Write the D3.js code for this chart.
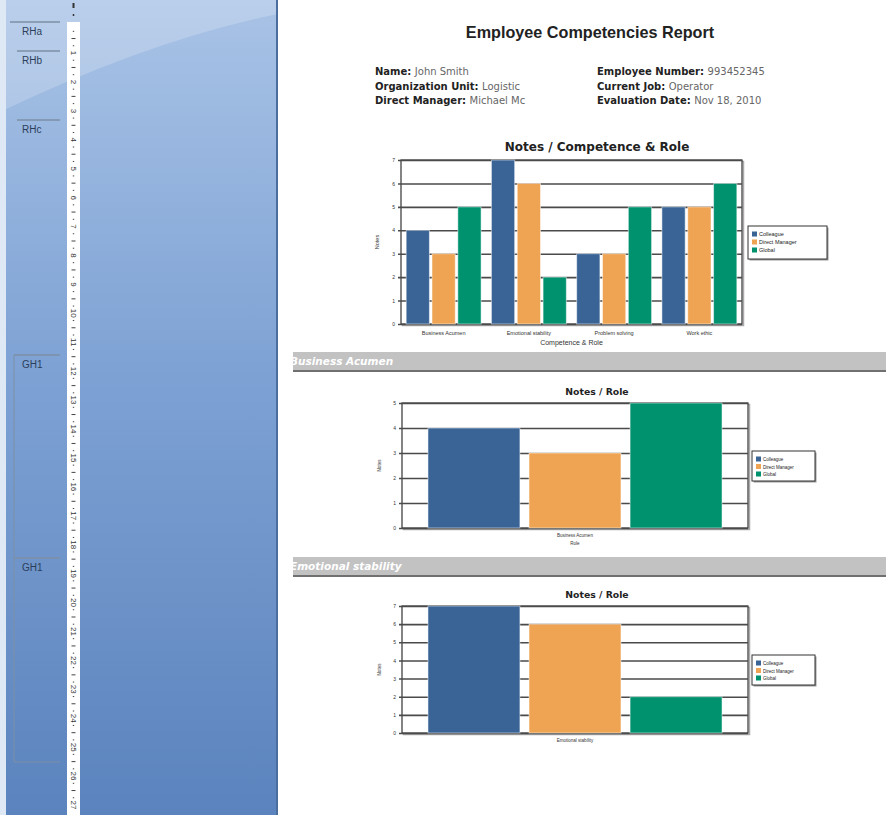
<!DOCTYPE html>
<html>
<head>
<meta charset="utf-8">
<script src="https://cdn.jsdelivr.net/npm/d3@7"></script>
<style>
body { margin: 0; background: #fff; }
svg { display: block; font-family: "Liberation Sans", Arial, sans-serif; }
</style>
</head>
<body>
<svg id="page" width="893" height="815"></svg>
<script>
// Report data
var competences = ["Business Acumen", "Emotional stability", "Problem solving", "Work ethic"];
var roles = ["Colleague", "Direct Manager", "Global"];
var colleagueNotes = [4, 7, 3, 5];
var managerNotes = [3, 6, 3, 5];
var globalNotes = [5, 2, 5, 6];
var roleColors = ["#3a6496", "#eea453", "#00916e"];
var infoLeft = [["Name:", "John Smith"], ["Organization Unit:", "Logistic"], ["Direct Manager:", "Michael Mc"]];
var infoRight = [["Employee Number:", "993452345"], ["Current Job:", "Operator"], ["Evaluation Date:", "Nov 18, 2010"]];
var sectionLabels = ["RHa", "RHb", "RHc", "GH1", "GH1"];
var rulerNumbers = d3.range(1, 28);

var wideFont = "DejaVu Sans, Verdana, sans-serif";
var svg = d3.select("#page");

// ---------- left designer panel ----------
var defs = svg.append("defs");
var grad = defs.append("linearGradient").attr("id", "panelGrad")
    .attr("x1", 0).attr("y1", 0).attr("x2", 0).attr("y2", 1);
grad.append("stop").attr("offset", "0%").attr("stop-color", "#a9c3e6");
grad.append("stop").attr("offset", "45%").attr("stop-color", "#7ea2d4");
grad.append("stop").attr("offset", "100%").attr("stop-color", "#5b83bd");
defs.append("clipPath").attr("id", "pageClip")
    .append("rect").attr("x", 293).attr("y", 0).attr("width", 600).attr("height", 815);

svg.append("rect").attr("x", 0).attr("y", 0).attr("width", 278).attr("height", 815)
    .attr("fill", "url(#panelGrad)");
// glossy highlight at the top
svg.append("path").attr("d", "M0,0 L278,0 L278,14 Q150,40 0,112 Z")
    .attr("fill", "#ffffff").attr("opacity", 0.2);
svg.append("rect").attr("x", 0).attr("y", 0).attr("width", 6).attr("height", 815)
    .attr("fill", "#dfe9f6");
svg.append("rect").attr("x", 276).attr("y", 0).attr("width", 2).attr("height", 815)
    .attr("fill", "#4b6e9f");

// section markers
var sectionY = [22, 51, 120, 355, 558];
var sectionX = [10, 17, 17, 14, 14];
var sec = svg.append("g");
sectionLabels.forEach(function(s, i) {
    sec.append("line").attr("x1", sectionX[i]).attr("x2", 60)
        .attr("y1", sectionY[i]).attr("y2", sectionY[i])
        .attr("stroke", "#7d8fa6").attr("stroke-width", 1.5);
    sec.append("text").attr("x", 22).attr("y", sectionY[i] + 13)
        .attr("font-size", 10).attr("fill", "#2c3e5a").text(s);
});
sec.append("line").attr("x1", 14).attr("x2", 14).attr("y1", 355).attr("y2", 762)
    .attr("stroke", "#7d8fa6").attr("stroke-width", 1);
sec.append("line").attr("x1", 14).attr("x2", 60).attr("y1", 762).attr("y2", 762)
    .attr("stroke", "#7d8fa6").attr("stroke-width", 1);

// vertical ruler
var ruler = svg.append("g");
ruler.append("rect").attr("x", 67).attr("y", 22).attr("width", 13).attr("height", 793)
    .attr("fill", "#ffffff");
ruler.append("line").attr("x1", 73.5).attr("x2", 73.5).attr("y1", 3).attr("y2", 8)
    .attr("stroke", "#333").attr("stroke-width", 2);
ruler.append("line").attr("x1", 73.5).attr("x2", 73.5).attr("y1", 14).attr("y2", 16)
    .attr("stroke", "#333").attr("stroke-width", 1.5);
var rulerY = d3.scaleLinear().domain([1, 27]).range([53, 805]);
var minor = [];
d3.range(0, 27).forEach(function(n) {
    [0.25, 0.5, 0.75].forEach(function(f) { minor.push({v: n + f, big: f === 0.5}); });
});
ruler.selectAll("line.minor").data(minor.filter(function(d) { return rulerY(d.v) > 24; }))
    .enter().append("line").attr("class", "minor")
    .attr("x1", function(d) { return d.big ? 71.5 : 72.8; })
    .attr("x2", function(d) { return d.big ? 75.5 : 74.2; })
    .attr("y1", function(d) { return rulerY(d.v); })
    .attr("y2", function(d) { return rulerY(d.v); })
    .attr("stroke", "#444").attr("stroke-width", 1);
ruler.selectAll("text").data(rulerNumbers).enter().append("text")
    .attr("transform", function(d) { return "translate(70.5," + rulerY(d) + ") rotate(90)"; })
    .attr("text-anchor", "middle").attr("font-size", 8).attr("fill", "#333")
    .text(function(d) { return d; });

// ---------- report page ----------
svg.append("text").attr("x", 590).attr("y", 38).attr("text-anchor", "middle")
    .attr("font-size", 16.2).attr("font-weight", "bold").attr("fill", "#222")
    .text("Employee Competencies Report");

function infoBlock(rows, x) {
    rows.forEach(function(r, i) {
        var t = svg.append("text").attr("x", x).attr("y", 75 + i * 14.5)
            .attr("font-size", 10).attr("font-family", wideFont);
        t.append("tspan").attr("font-weight", "bold").attr("fill", "#222").text(r[0] + " ");
        t.append("tspan").attr("fill", "#666").text(r[1]);
    });
}
infoBlock(infoLeft, 375);
infoBlock(infoRight, 597);

// grouped bar chart
function drawChart(c) {
    var g = svg.append("g");
    var w = c.right - c.left;
    var y = d3.scaleLinear().domain([0, c.yMax]).range([c.bottom, c.top]);
    var x0 = d3.scaleBand().domain(c.groups).range([c.left, c.right]).padding(0);
    var x1 = d3.scaleBand().domain(roles).range([0, x0.bandwidth()])
        .paddingInner(c.padIn).paddingOuter(c.padOut);

    g.append("text").attr("x", 597).attr("y", c.titleY).attr("text-anchor", "middle")
        .attr("font-size", c.titleSize).attr("font-weight", "bold").attr("fill", "#222")
        .attr("font-family", wideFont).text(c.title);

    // shadow + plot frame
    g.append("rect").attr("x", c.left + 1.5).attr("y", c.top + 1.5).attr("width", w).attr("height", c.bottom - c.top)
        .attr("fill", "none").attr("stroke", "#aaa").attr("stroke-width", 1.5);
    g.append("rect").attr("x", c.left).attr("y", c.top).attr("width", w).attr("height", c.bottom - c.top)
        .attr("fill", "#fff").attr("stroke", "#333").attr("stroke-width", 1.2);

    var ax = g.append("g").attr("transform", "translate(" + (c.left - 3) + ",0)")
        .call(d3.axisLeft(y).ticks(c.yMax).tickSize(-(w + 3)).tickPadding(3));
    ax.select(".domain").remove();
    ax.selectAll(".tick line").attr("stroke", "#4a4a4a").attr("stroke-width", 1.6);
    ax.selectAll(".tick text").attr("font-size", 5).attr("fill", "#333")
        .attr("font-family", "Liberation Sans, Arial, sans-serif");

    c.groups.forEach(function(grp, gi) {
        g.selectAll(null).data(c.values[gi]).enter().append("rect")
            .attr("x", function(d, i) { return x0(grp) + x1(roles[i]); })
            .attr("y", function(d) { return y(d); })
            .attr("width", x1.bandwidth())
            .attr("height", function(d) { return y(0) - y(d); })
            .attr("fill", function(d, i) { return roleColors[i]; })
            .attr("stroke", "#ffffff").attr("stroke-opacity", 0.5).attr("stroke-width", 1);
        g.append("text").attr("x", x0(grp) + x0.bandwidth() / 2).attr("y", c.bottom + c.labelGap)
            .attr("text-anchor", "middle").attr("font-size", c.labelSize).attr("fill", "#333")
            .text(grp);
    });
    if (c.xTitle) {
        g.append("text").attr("x", c.left + w / 2).attr("y", c.bottom + c.xTitleGap)
            .attr("text-anchor", "middle").attr("font-size", c.xTitleSize).attr("fill", "#333")
            .text(c.xTitle);
    }
    g.append("text").attr("transform", "translate(" + c.yLabelX + "," + (c.top + c.bottom) / 2 + ") rotate(-90)")
        .attr("text-anchor", "middle").attr("font-size", c.labelSize).attr("fill", "#333").text("Notes");

    // legend
    var lg = c.legend;
    g.append("rect").attr("x", lg.x + 1.5).attr("y", lg.y + 1.5).attr("width", lg.w).attr("height", lg.h)
        .attr("fill", "#999");
    g.append("rect").attr("x", lg.x).attr("y", lg.y).attr("width", lg.w).attr("height", lg.h)
        .attr("fill", "#fff").attr("stroke", "#333").attr("stroke-width", 1);
    roles.forEach(function(r, i) {
        var yy = lg.y + lg.pad + i * lg.step;
        g.append("rect").attr("x", lg.x + 4).attr("y", yy - 2.5).attr("width", 5).attr("height", 5)
            .attr("fill", roleColors[i]);
        g.append("text").attr("x", lg.x + 11).attr("y", yy + 2).attr("font-size", lg.font)
            .attr("fill", "#222").text(r);
    });
}

drawChart({
    title: "Notes / Competence & Role", titleY: 151, titleSize: 12,
    groups: competences,
    values: competences.map(function(d, i) { return [colleagueNotes[i], managerNotes[i], globalNotes[i]]; }),
    yMax: 7, left: 401, right: 742, top: 160, bottom: 324,
    padIn: 0.1, padOut: 0.2,
    labelGap: 11, labelSize: 5.5, xTitle: "Competence & Role", xTitleGap: 21, xTitleSize: 7,
    yLabelX: 379,
    legend: {x: 748, y: 226, w: 79, h: 33, pad: 8, step: 8, font: 5.5}
});

// section headers
function sectionBar(label, y) {
    svg.append("rect").attr("x", 293).attr("y", y).attr("width", 593).attr("height", 19)
        .attr("fill", "#c2c2c2");
    svg.append("rect").attr("x", 293).attr("y", y + 18).attr("width", 593).attr("height", 2)
        .attr("fill", "#707070");
    svg.append("text").attr("x", 290).attr("y", y + 13).attr("font-size", 10.5)
        .attr("font-family", wideFont).attr("clip-path", "url(#pageClip)")
        .attr("font-weight", "bold").attr("font-style", "italic").attr("fill", "#ffffff")
        .text(label);
}

var detailTop = [403, 606];
var detailBottom = [528, 733];
var detailMax = [5, 7];
var detailHeader = [352, 557];
var detailLegendY = [451, 655];
[0, 1].forEach(function(k) {
    sectionBar(competences[k], detailHeader[k]);
    drawChart({
        title: "Notes / Role", titleY: detailTop[k] - 8, titleSize: 9.3,
        groups: [competences[k]],
        values: [[colleagueNotes[k], managerNotes[k], globalNotes[k]]],
        yMax: detailMax[k], left: 402, right: 748, top: detailTop[k], bottom: detailBottom[k],
        padIn: 0.09, padOut: 0.257,
        labelGap: 9, labelSize: 4.5, xTitle: k === 0 ? "Role" : null, xTitleGap: 17, xTitleSize: 4.5,
        yLabelX: 381,
        legend: {x: 752, y: detailLegendY[k], w: 63, h: 30, pad: 8, step: 7.5, font: 4.5}
    });
});
</script>
</body>
</html>
